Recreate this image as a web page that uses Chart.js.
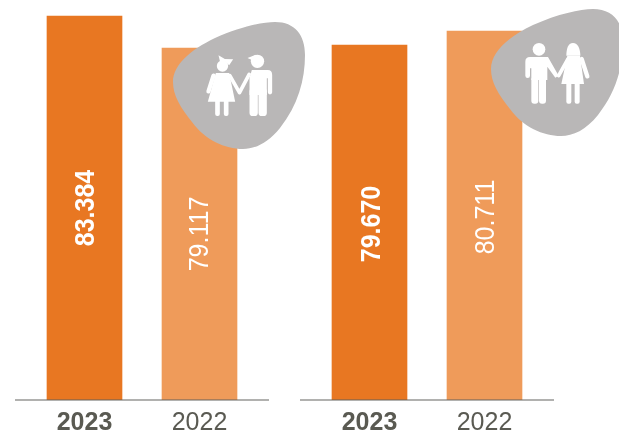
<!DOCTYPE html>
<html>
<head>
<meta charset="utf-8">
<style>
html,body{margin:0;padding:0;background:#fff;width:619px;height:433px;overflow:hidden}
canvas{position:absolute;top:0}
svg{position:absolute;left:0;top:0}
</style>
<script src="https://cdn.jsdelivr.net/npm/chart.js@4/dist/chart.umd.min.js"></script>
</head>
<body>
<canvas id="c1" width="285" height="433" style="left:0"></canvas>
<canvas id="c2" width="285" height="433" style="left:285px"></canvas>
<svg width="619" height="433" viewBox="0 0 619 433">
  <defs>
    <path id="blob" d="M173 82C173 65 190 50 215 38C240 27 262 22 275 22C295 22 305 35 305 55C305 80 298 105 280 128C268 143 255 149 243 149C225 149 205 140 192 122C180 107 173 95 173 82Z"/>
  </defs>
  <use href="#blob" fill="#b9b7b7"/>
  <use href="#blob" fill="#b9b7b7" transform="translate(318,-13)"/>
  <g transform="translate(198.5,45) scale(0.3333)" fill="#fff" stroke="none">
    <circle cx="72" cy="63" r="17"/>
    <path d="M60 31L79 42L104 43L92 61L80 50L66 56Z"/>
    <path d="M52 84H92L110 170H28Z"/>
    <rect x="50" y="160" width="14" height="53" rx="6"/>
    <rect x="76" y="160" width="14" height="53" rx="6"/>
    <path d="M45 92L30 139" stroke="#fff" stroke-width="13" stroke-linecap="round" fill="none"/>
    <path d="M94 92L123 143L152 88" stroke="#fff" stroke-width="11" stroke-linecap="round" stroke-linejoin="round" fill="none"/>
    <circle cx="177" cy="49" r="20"/>
    <path d="M147 39L172 29V50Z"/>
    <path d="M160 75H208Q221 75 221 90V142A6.5 6.5 0 0 1 208 142V100H205V150H153V100Z"/>
    <rect x="153" y="130" width="25" height="83" rx="10"/>
    <rect x="180" y="130" width="25" height="83" rx="10"/>
  </g>
  <g transform="translate(518,35) scale(0.3333)" fill="#fff" stroke="none">
    <circle cx="63" cy="43" r="19"/>
    <path d="M36 66H90L122 122L112 128L88 95V135H40V100H36V122A7 7 0 0 1 22 122V80Q22 66 36 66Z"/>
    <rect x="40" y="125" width="21" height="81" rx="9"/>
    <rect x="63" y="125" width="21" height="81" rx="9"/>
    <path d="M122 122L150 72" stroke="#fff" stroke-width="11" stroke-linecap="round" fill="none"/>
    <path d="M165 24C180 24 187 42 187 62H145C145 42 150 24 165 24Z"/>
    <path d="M148 62H186L198 147H130Z"/>
    <rect x="145" y="140" width="15" height="66" rx="6"/>
    <rect x="170" y="140" width="15" height="66" rx="6"/>
    <path d="M191 72L208 124" stroke="#fff" stroke-width="13" stroke-linecap="round" fill="none"/>
  </g>
</svg>
<script>
const categories = ['2023', '2022'];
const childrenValues = [83384, 79117];
const adultValues = [79670, 80711];
const barColors = ['#e87722', '#ef9b5a'];

const formatValue = v => String(v).replace(/(\d)(\d{3})$/, '$1.$2');

const decorate = {
  id: 'decorate',
  afterDatasetsDraw(chart, args, opts) {
    const ctx = chart.ctx;
    const area = chart.chartArea;
    ctx.save();
    ctx.strokeStyle = 'rgba(95,95,90,0.65)';
    ctx.lineWidth = 1.5;
    ctx.beginPath();
    ctx.moveTo(area.left - 12, area.bottom);
    ctx.lineTo(area.right + 12, area.bottom);
    ctx.stroke();
    const meta = chart.getDatasetMeta(0);
    meta.data.forEach((bar, i) => {
      const shift = opts.shifts[i];
      ctx.save();
      ctx.translate(bar.x + shift[0], (bar.y + area.bottom) / 2 + shift[1]);
      ctx.rotate(-Math.PI / 2);
      ctx.scale(1, 1.08);
      ctx.fillStyle = '#fff';
      ctx.textAlign = 'center';
      ctx.textBaseline = 'middle';
      ctx.font = (i === 0 ? 'bold ' : '') + '25px "Liberation Sans", Arial, sans-serif';
      ctx.fillText(formatValue(chart.data.datasets[0].data[i]), 0, 0);
      ctx.restore();
    });
    ctx.restore();
  }
};

function makeChart(id, values, yMin, yMax, shifts) {
  return new Chart(document.getElementById(id), {
    type: 'bar',
    data: {
      labels: categories,
      datasets: [{ data: values, backgroundColor: barColors, barThickness: 75, borderWidth: 0 }]
    },
    options: {
      responsive: false,
      animation: false,
      devicePixelRatio: 1,
      layout: { padding: { left: 27, right: 28, top: 0, bottom: 0 } },
      plugins: { legend: { display: false }, tooltip: { enabled: false }, decorate: { shifts } },
      scales: {
        x: {
          afterFit(s) { s.height = 33; },
          grid: { display: false },
          border: { display: false },
          ticks: {
            padding: 0,
            maxRotation: 0,
            color: '#5a5a52',
            font: ctx => ({
              family: '"Liberation Sans", Arial, sans-serif',
              size: 25,
              weight: ctx.index === 0 ? 'bold' : 'normal'
            })
          }
        },
        y: { display: false, min: yMin, max: yMax }
      }
    },
    plugins: [decorate]
  });
}

makeChart('c1', childrenValues, 32180, 85520, [[2.5, 0], [1, 10]]);
makeChart('c2', adultValues, 53273, 83016, [[3.5, 1.5], [2, 1.5]]);
</script>
</body>
</html>
